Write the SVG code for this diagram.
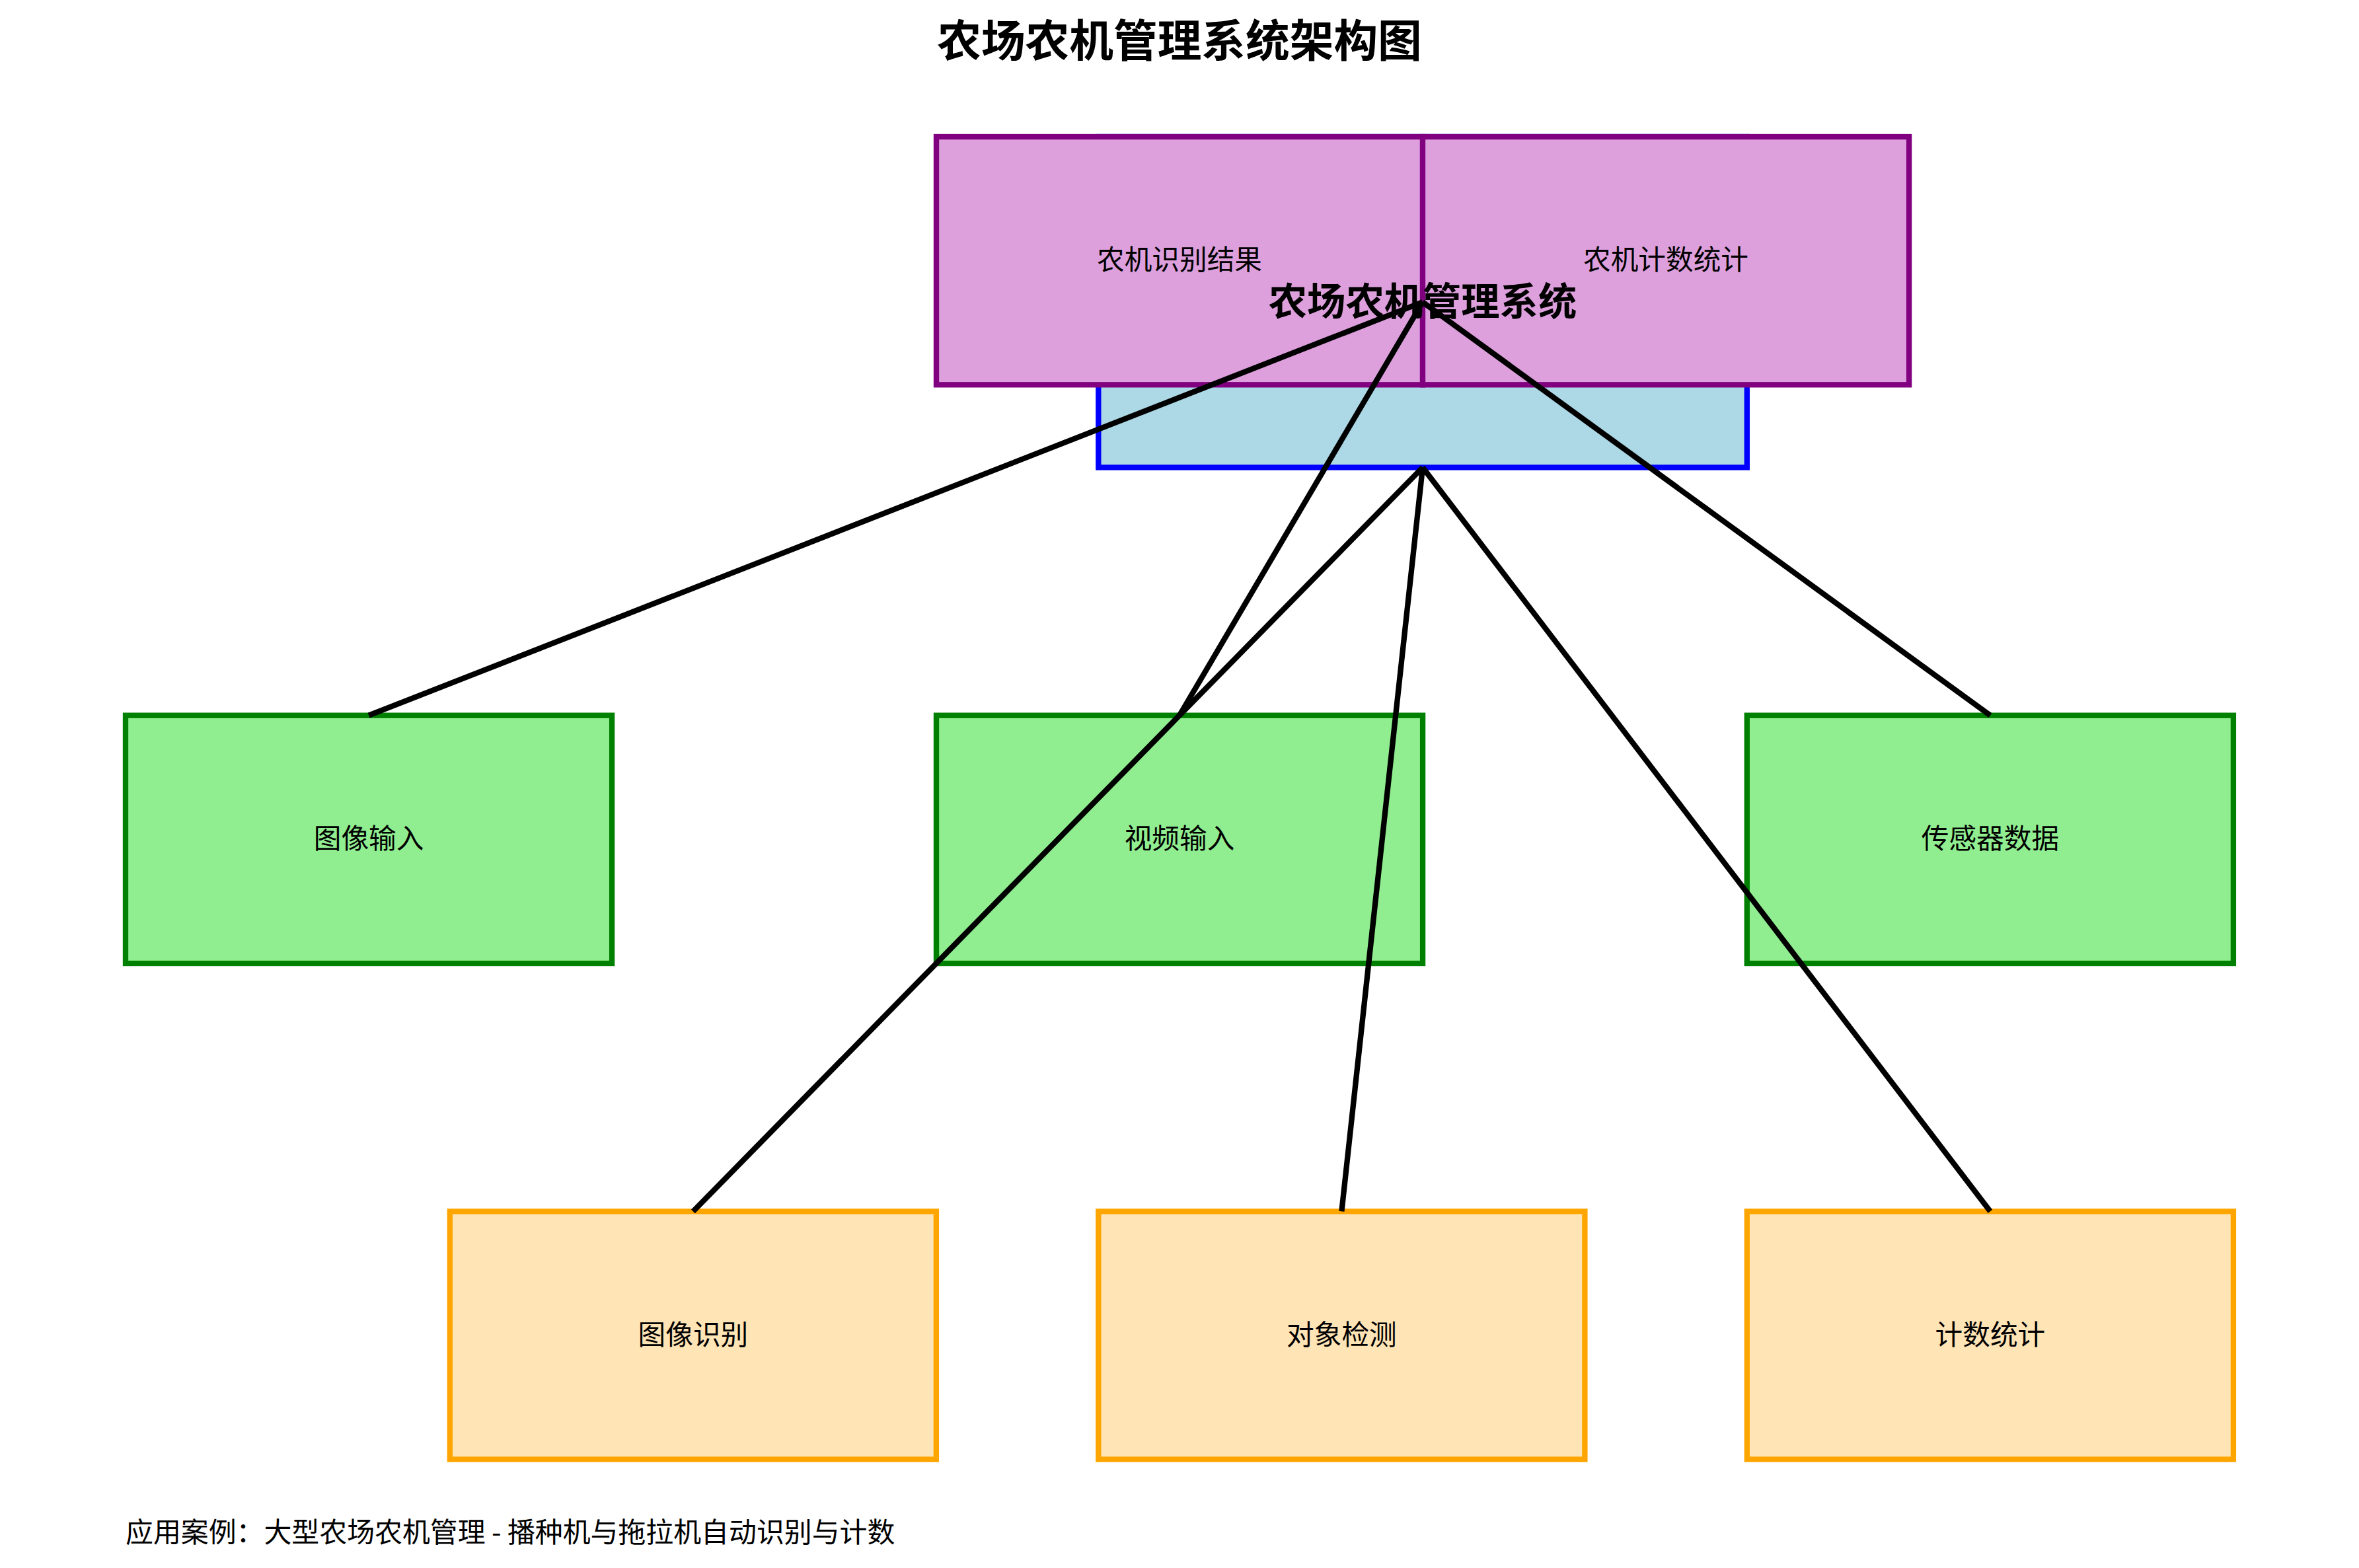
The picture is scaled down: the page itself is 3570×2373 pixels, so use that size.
<svg xmlns="http://www.w3.org/2000/svg" width="3570" height="2373" viewBox="0 0 3570 2373">
<style>
  .box { stroke-width: 8.33; }
  .center { fill: #ADD8E6; stroke: #0000FF; }
  .output { fill: #DDA0DD; stroke: #800080; }
  .input { fill: #90EE90; stroke: #008000; }
  .proc { fill: #FFE4B5; stroke: #FFA500; }
  .lbl { font-family: "Noto Sans CJK SC", "Noto Sans", sans-serif; font-size: 41.67px; text-anchor: middle; dominant-baseline: central; fill: #000; }
  .bold { font-weight: bold; }
  .conn { stroke: #000; stroke-width: 8.33; fill: none; stroke-linecap: butt; }
</style>
<rect x="0" y="0" width="3570" height="2373" fill="#FFFFFF"/>
<text id="title" class="lbl bold" x="1785" y="57" style="font-size:66.7px">农场农机管理系统架构图</text>

<g id="nodes">
  <g id="node-center">
    <rect class="box center" x="1662.3" y="207" width="981.5" height="500.4"/>
  </g>
  <g id="node-result">
    <rect class="box output" x="1417" y="207" width="736.1" height="375.3"/>
    <text class="lbl" x="1785" y="390">农机识别结果</text>
  </g>
  <g id="node-count-stat">
    <rect class="box output" x="2153" y="207" width="736.1" height="375.3"/>
    <text class="lbl" x="2521" y="390">农机计数统计</text>
  </g>
  <g id="node-image-input">
    <rect class="box input" x="190" y="1082.7" width="736.1" height="375.3"/>
    <text class="lbl" x="558.1" y="1266">图像输入</text>
  </g>
  <g id="node-video-input">
    <rect class="box input" x="1417" y="1082.7" width="736.1" height="375.3"/>
    <text class="lbl" x="1785" y="1266">视频输入</text>
  </g>
  <g id="node-sensor">
    <rect class="box input" x="2643.8" y="1082.7" width="736.1" height="375.3"/>
    <text class="lbl" x="3011.9" y="1266">传感器数据</text>
  </g>
  <g id="node-image-recog">
    <rect class="box proc" x="680.8" y="1833.3" width="736.1" height="375.3"/>
    <text class="lbl" x="1048.9" y="2016.5">图像识别</text>
  </g>
  <g id="node-detect">
    <rect class="box proc" x="1662.3" y="1833.3" width="736.1" height="375.3"/>
    <text class="lbl" x="2030.4" y="2016.5">对象检测</text>
  </g>
  <g id="node-count">
    <rect class="box proc" x="2643.8" y="1833.3" width="736.1" height="375.3"/>
    <text class="lbl" x="3011.9" y="2016.5">计数统计</text>
  </g>
</g>

<g id="connectors">
  <line class="conn" x1="558.1" y1="1082.7" x2="2153" y2="457.2"/>
  <line class="conn" x1="1785" y1="1082.7" x2="2153" y2="457.2"/>
  <line class="conn" x1="3011.9" y1="1082.7" x2="2153" y2="457.2"/>
  <line class="conn" x1="2153" y1="707.4" x2="1048.9" y2="1833.3"/>
  <line class="conn" x1="2153" y1="707.4" x2="2030.4" y2="1833.3"/>
  <line class="conn" x1="2153" y1="707.4" x2="3011.9" y2="1833.3"/>
</g>

<g id="node-center-label">
  <text class="lbl bold" x="2153" y="451" style="font-size:58.3px">农场农机管理系统</text>
</g>

<text id="footer" class="lbl" x="190" y="2315" style="text-anchor:start;font-size:41.9px">应用案例：大型农场农机管理 - 播种机与拖拉机自动识别与计数</text>
</svg>
